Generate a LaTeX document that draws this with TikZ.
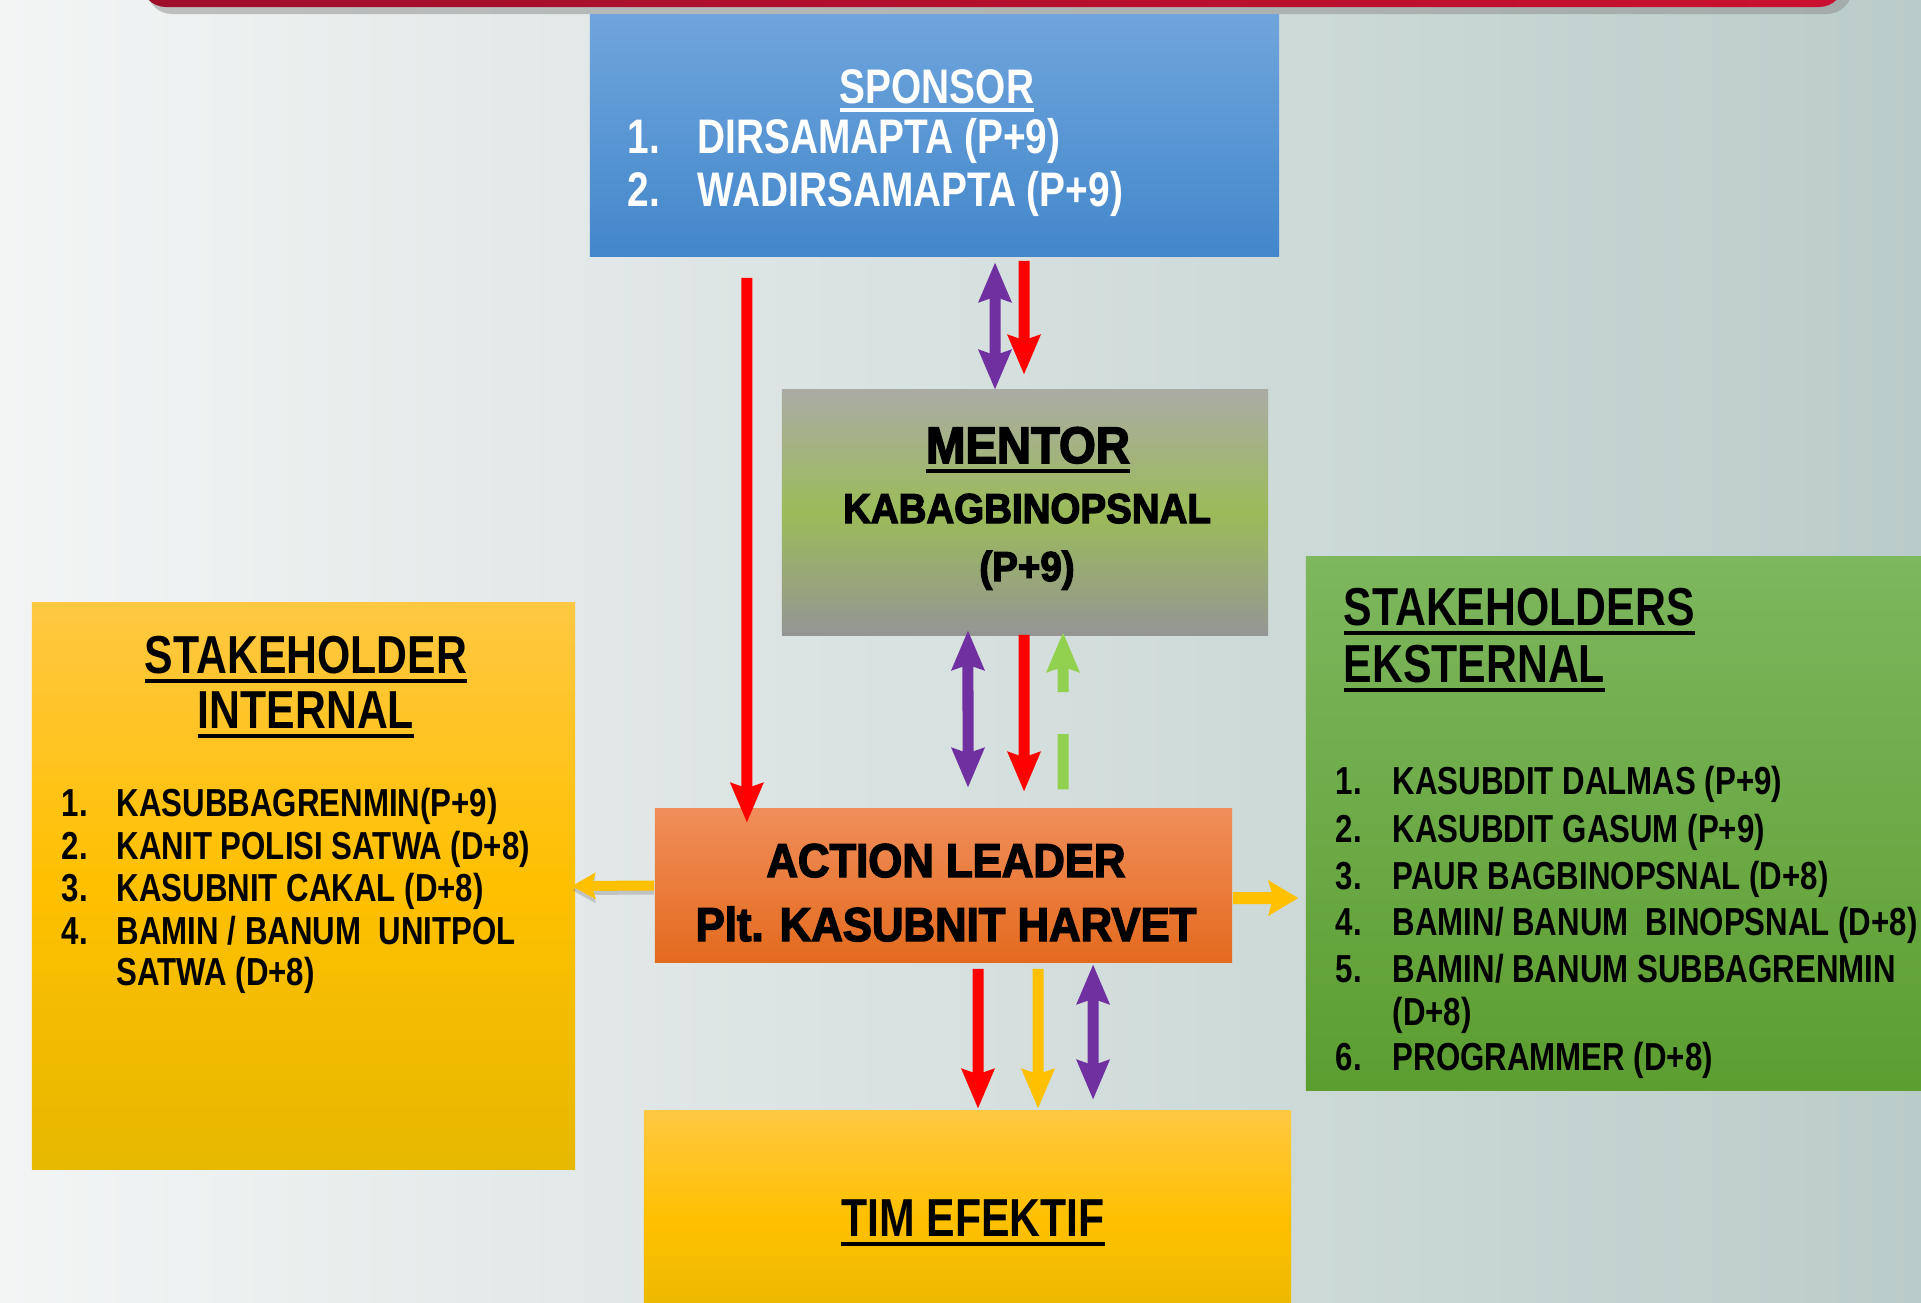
\documentclass[tikz,border=0pt]{standalone}
\usepackage{fontspec}
\usepackage{xcolor}
\usepackage{tikz}
\usetikzlibrary{arrows.meta,positioning}

\newfontfamily\narrowfont{Liberation Sans Bold}[FakeStretch=0.8]
\newfontfamily\heavyfont{Liberation Sans Bold}[FakeStretch=0.92,FakeBold=3]

\definecolor{bgleft}{HTML}{F3F5F5}
\definecolor{bgright}{HTML}{BACCC9}
\definecolor{bannerl}{HTML}{9E0E2B}
\definecolor{bannerr}{HTML}{CA1030}
\definecolor{sptop}{HTML}{6FA5DC}
\definecolor{spbot}{HTML}{4387CB}
\definecolor{mntop}{HTML}{ABABA5}
\definecolor{mnmid}{HTML}{9BBB59}
\definecolor{mnbot}{HTML}{959595}
\definecolor{yltop}{HTML}{FFC842}
\definecolor{ylbot}{HTML}{E6B800}
\definecolor{ortop}{HTML}{F08E5A}
\definecolor{orbot}{HTML}{E46A1E}
\definecolor{grtop}{HTML}{7DB75E}
\definecolor{grbot}{HTML}{5C9E30}
\definecolor{arred}{HTML}{FF0000}
\definecolor{arpurple}{HTML}{7030A0}
\definecolor{aryellow}{HTML}{FFC000}
\definecolor{argreen}{HTML}{92D050}

\newcommand{\ulbar}[1]{\setbox0=\hbox{#1}\rlap{\vrule width\wd0 height -0.11em depth 0.19em}\box0}

\begin{document}
\begin{tikzpicture}[
  x=0.01cm, y=-0.01cm,
  box/.style={rectangle, inner sep=0pt},
  lbl/.style={inner sep=0pt, anchor=base},
  title/.style={inner sep=0pt, anchor=base, font=\narrowfont\fontsize{15.2}{18}\selectfont},
  item/.style={inner sep=0pt, anchor=base west, font=\narrowfont\fontsize{11.1}{13}\selectfont},
  arrow/.style={line width=0.11cm, -{Stealth[length=0.4cm, width=0.34cm, inset=0.06cm, line width=0pt]}},
  dblarrow/.style={line width=0.11cm, {Stealth[length=0.4cm, width=0.34cm, inset=0.06cm, line width=0pt]}-{Stealth[length=0.4cm, width=0.34cm, inset=0.06cm, line width=0pt]}}
]
\clip (0,0) rectangle (1921,1302);
\shade[left color=bgleft, right color=bgright] (0,0) rectangle (1921,1302);

% top banner
\fill[black!45, opacity=0.5, rounded corners=0.25cm] (147,-60) rectangle (1852,14);
\shade[left color=bannerl, right color=bannerr, rounded corners=0.25cm] (141,-60) rectangle (1844,7);

% boxes
\node[box, top color=sptop, bottom color=spbot, minimum width=6.89cm, minimum height=2.41cm] (sponsor) at (934.5,135.5) {};
\node[box, top color=mntop, bottom color=mnbot, middle color=mnmid, minimum width=4.86cm, minimum height=2.45cm] (mentor) at (1025,512.5) {};
\node[box, top color=yltop, bottom color=ylbot, middle color=aryellow, minimum width=5.43cm, minimum height=5.66cm] (internal) at (303.5,886) {};
\node[box, top color=ortop, bottom color=orbot, minimum width=5.77cm, minimum height=1.53cm] (action) at (943.5,885.5) {};
\node[box, top color=grtop, bottom color=grbot, minimum width=6.24cm, minimum height=5.33cm] (external) at (1618,823.5) {};
\node[box, top color=yltop, bottom color=ylbot, middle color=aryellow, minimum width=6.47cm, minimum height=2.19cm] (tim) at (967.5,1220.5) {};

% sponsor
\node[lbl, text=white, font=\narrowfont\fontsize{13.8}{16}\selectfont] (sptitle) at (937,103) {\ulbar{SPONSOR}};
\node[item, text=white, font=\narrowfont\fontsize{13.8}{16}\selectfont] (sp1) at (627,153) {\makebox[0.70cm][l]{1.}DIRSAMAPTA (P+9)};
\node[item, text=white, font=\narrowfont\fontsize{13.8}{16}\selectfont] (sp2) at (627,206) {\makebox[0.70cm][l]{2.}WADIRSAMAPTA (P+9)};

% mentor
\node[lbl, font=\heavyfont\fontsize{14.6}{17}\selectfont] (mntitle) at (1028,463) {\ulbar{MENTOR}};
\node[lbl, font=\heavyfont\fontsize{11.9}{14}\selectfont] (mn1) at (1027,523) {KABAGBINOPSNAL};
\node[lbl, font=\heavyfont\fontsize{11.9}{14}\selectfont] (mn2) at (1027,581) {(P+9)};

% action leader
\node[lbl, font=\heavyfont\fontsize{13.5}{16}\selectfont] (al1) at (946,877) {ACTION LEADER};
\node[lbl, font=\heavyfont\fontsize{13.5}{16}\selectfont] (al2) at (946,941) {Plt. KASUBNIT HARVET};

% tim efektif
\node[title] (timtitle) at (973,1236) {\ulbar{TIM EFEKTIF}};

% stakeholder internal
\node[title] (int1) at (306,673) {\ulbar{STAKEHOLDER}};
\node[title] (int2) at (306,728) {\ulbar{INTERNAL}};
\node[item] (ia) at (61,816) {\makebox[0.55cm][l]{1.}KASUBBAGRENMIN(P+9)};
\node[item] (ib) at (61,859) {\makebox[0.55cm][l]{2.}KANIT POLISI SATWA (D+8)};
\node[item] (ic) at (61,901) {\makebox[0.55cm][l]{3.}KASUBNIT CAKAL (D+8)};
\node[item] (id) at (61,944) {\makebox[0.55cm][l]{4.}BAMIN / BANUM\ \ UNITPOL};
\node[item] (ie) at (116,985) {SATWA (D+8)};

% stakeholders eksternal
\node[title, anchor=base west] (ext1) at (1343,625) {\ulbar{STAKEHOLDERS}};
\node[title, anchor=base west] (ext2) at (1343,682) {\ulbar{EKSTERNAL}};
\node[item] (ea) at (1335,794) {\makebox[0.57cm][l]{1.}KASUBDIT DALMAS (P+9)};
\node[item] (eb) at (1335,842) {\makebox[0.57cm][l]{2.}KASUBDIT GASUM (P+9)};
\node[item] (ec) at (1335,889) {\makebox[0.57cm][l]{3.}PAUR BAGBINOPSNAL (D+8)};
\node[item] (ed) at (1335,935) {\makebox[0.57cm][l]{4.}BAMIN/ BANUM\ \ BINOPSNAL (D+8)};
\node[item] (ee) at (1335,982) {\makebox[0.57cm][l]{5.}BAMIN/ BANUM SUBBAGRENMIN};
\node[item] (ef) at (1392,1025) {(D+8)};
\node[item] (eg) at (1335,1070) {\makebox[0.57cm][l]{6.}PROGRAMMER (D+8)};

% connectors
\draw[arrow, arred] ([xshift=-1.875cm, yshift=-0.21cm]sponsor.south) -- ([xshift=-1.965cm, yshift=-0.14cm]action.north);
\draw[dblarrow, arpurple] ([xshift=0.605cm, yshift=-0.06cm]sponsor.south) -- ([xshift=-0.30cm]mentor.north);
\draw[arrow, arred] ([xshift=0.895cm, yshift=-0.04cm]sponsor.south) -- ([xshift=-0.01cm, yshift=0.15cm]mentor.north);
\draw[dblarrow, arpurple] ([xshift=-0.57cm, yshift=0.05cm]mentor.south) -- ([xshift=0.245cm, yshift=0.21cm]action.north);
\draw[arrow, arred] ([xshift=-0.01cm, yshift=0.01cm]mentor.south) -- ([xshift=0.805cm, yshift=0.17cm]action.north);
\draw[arrow, argreen, dash pattern=on 0.55cm off 0.42cm on 3cm] ([xshift=1.195cm, yshift=0.19cm]action.north) -- ([xshift=0.38cm, yshift=0.03cm]mentor.south);
\draw[line width=0.10cm, black!50, opacity=0.35, -{Stealth[length=0.24cm, width=0.27cm, inset=0.04cm, line width=0pt]}] ([yshift=-0.04cm]action.west) -- ([xshift=-0.04cm, yshift=-0.04cm]internal.east);
\draw[line width=0.10cm, aryellow, -{Stealth[length=0.24cm, width=0.27cm, inset=0.04cm, line width=0pt]}] (action.west) -- ([xshift=-0.04cm]internal.east);
\draw[line width=0.12cm, aryellow, -{Stealth[length=0.3cm, width=0.36cm, inset=0.05cm, line width=0pt]}] ([yshift=-0.125cm]action.east) -- ([xshift=-0.07cm, yshift=-0.745cm]external.west);
\draw[arrow, arred] ([xshift=0.345cm, yshift=-0.06cm]action.south) -- ([xshift=0.105cm, yshift=0.02cm]tim.north);
\draw[arrow, aryellow] ([xshift=0.945cm, yshift=-0.06cm]action.south) -- ([xshift=0.705cm, yshift=0.02cm]tim.north);
\draw[dblarrow, arpurple] ([xshift=1.495cm, yshift=-0.02cm]action.south) -- ([xshift=1.255cm, yshift=0.11cm]tim.north);
\end{tikzpicture}
\end{document}
